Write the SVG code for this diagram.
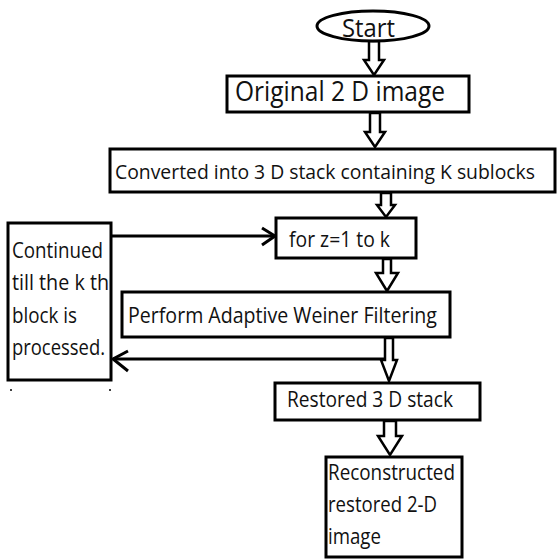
<svg xmlns="http://www.w3.org/2000/svg" width="557" height="560" viewBox="0 0 557 560">
<style>
.box{fill:#fff;stroke:#000;stroke-width:3}
.t{font-family:"Open Sans","Noto Sans","Liberation Sans",sans-serif;fill:#111;}
.harrow{fill:#fff;stroke:#000;stroke-width:2.5;stroke-linejoin:miter}
.ln{fill:none;stroke:#000;stroke-width:3}
.head{fill:none;stroke:#000;stroke-width:3;stroke-linecap:butt}
</style>
<rect width="557" height="560" fill="#fff"/>
<g id="connectors">
  <polygon class="harrow" points="369,41 369,60 364,60 374,75 384,60 379,60 379,41"/>
  <polygon class="harrow" points="370,113 370,132 365,132 375,147 385,132 380,132 380,113"/>
  <polygon class="harrow" points="381,193 381,205 377,205 386,217 395,205 391,205 391,193"/>
  <polygon class="harrow" points="383,259 383,273 376,273 387,291 398,273 391,273 391,259"/>
  <polygon class="harrow" points="385,338 385,360 381,360 389,381 397,360 393,360 393,338"/>
  <polygon class="harrow" points="384,421 384,436 378,436 390,455 402,436 396,436 396,421"/>
  <line class="ln" x1="385" y1="359" x2="113" y2="359"/>
  <polyline class="head" points="128,351 113,359 128,371"/>
  <line class="ln" x1="111" y1="236" x2="275" y2="236"/>
  <polyline class="head" points="262,228 275,236 262,245"/>
  <line x1="10" y1="390" x2="12" y2="390" stroke="#000" stroke-width="1.5"/>
  <line x1="109" y1="390" x2="111" y2="390" stroke="#000" stroke-width="1.5"/>
</g>
<g id="start">
  <ellipse class="box" cx="373" cy="26" rx="56" ry="15"/>
  <text class="t" x="342" y="37" font-size="26" textLength="53" lengthAdjust="spacingAndGlyphs">Start</text>
</g>
<g id="original">
  <rect class="box" x="227" y="76" width="242" height="36"/>
  <text class="t" x="235" y="101" font-size="27" textLength="210" lengthAdjust="spacingAndGlyphs">Original 2 D image</text>
</g>
<g id="converted">
  <rect class="box" x="110" y="149" width="445" height="43"/>
  <text class="t" x="115" y="179" font-size="20" textLength="420" lengthAdjust="spacingAndGlyphs">Converted into 3 D stack containing K sublocks</text>
</g>
<g id="loop">
  <rect class="box" x="276" y="218" width="140" height="40"/>
  <text class="t" x="289" y="247" font-size="21" textLength="101" lengthAdjust="spacingAndGlyphs">for z=1 to k</text>
</g>
<g id="continued">
  <rect class="box" x="8" y="223" width="103" height="157"/>
  <text class="t" font-size="21">
    <tspan x="12" y="258" textLength="91" lengthAdjust="spacingAndGlyphs">Continued</tspan>
    <tspan x="12" y="290" textLength="97" lengthAdjust="spacingAndGlyphs">till the k th</tspan>
    <tspan x="12" y="323" textLength="65" lengthAdjust="spacingAndGlyphs">block is</tspan>
    <tspan x="12" y="355" textLength="93" lengthAdjust="spacingAndGlyphs">processed.</tspan>
  </text>
</g>
<g id="perform">
  <rect class="box" x="122" y="292" width="328" height="45"/>
  <text class="t" x="128" y="323" font-size="21" textLength="309" lengthAdjust="spacingAndGlyphs">Perform Adaptive Weiner Filtering</text>
</g>
<g id="restored">
  <rect class="box" x="275" y="383" width="205" height="37"/>
  <text class="t" x="287" y="407" font-size="21" textLength="166" lengthAdjust="spacingAndGlyphs">Restored 3 D stack</text>
</g>
<g id="reconstructed">
  <rect class="box" x="326" y="457" width="136" height="100"/>
  <text class="t" font-size="21">
    <tspan x="328" y="480" textLength="127" lengthAdjust="spacingAndGlyphs">Reconstructed</tspan>
    <tspan x="328" y="512" textLength="109" lengthAdjust="spacingAndGlyphs">restored 2-D</tspan>
    <tspan x="328" y="544" textLength="53" lengthAdjust="spacingAndGlyphs">image</tspan>
  </text>
</g>
</svg>
